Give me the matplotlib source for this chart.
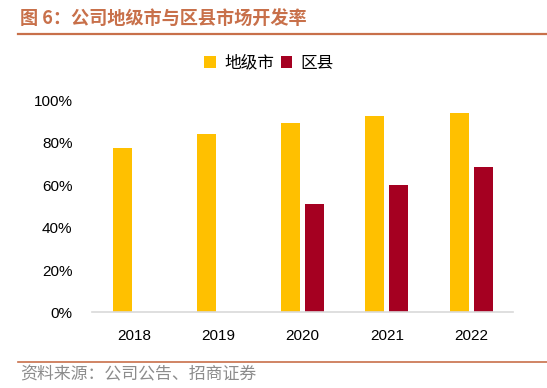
import numpy as np
import matplotlib.pyplot as plt
from matplotlib.lines import Line2D

plt.rcParams['font.family'] = ['Noto Sans CJK SC', 'DejaVu Sans']

years = ['2018', '2019', '2020', '2021', '2022']
city_rate = [0.777, 0.842, 0.895, 0.928, 0.942]      # 地级市
county_rate = [np.nan, np.nan, 0.512, 0.603, 0.685]  # 区县

title = '图 6：公司地级市与区县市场开发率'
source = '资料来源：公司公告、招商证券'
accent = '#C8704A'

fig = plt.figure(figsize=(5.47, 3.88), dpi=100)
ax = fig.add_axes([0.168, 0.1946, 0.7704, 0.5464])

x = np.arange(len(years))
w = 0.225
off = 0.142
ax.bar(x - off, city_rate, w, color='#FFC000', label='地级市')
ax.bar(x + off, county_rate, w, color='#A50021', label='区县')

ax.set_xlim(-0.5, len(years) - 0.5)
ax.set_ylim(0, 1.0)
ax.set_yticks(np.arange(0, 1.01, 0.2))
ax.set_yticklabels([f'{int(round(v * 100))}%' for v in np.arange(0, 1.01, 0.2)],
                   family='Liberation Sans', fontsize=11)
ax.set_xticks(x)
ax.set_xticklabels(years, family='Liberation Sans', fontsize=11)
ax.tick_params(axis='both', length=0)
ax.tick_params(axis='y', pad=14)
ax.tick_params(axis='x', pad=12)
for s in ['top', 'right', 'left']:
    ax.spines[s].set_visible(False)
ax.spines['bottom'].set_color('#D9D9D9')
ax.spines['bottom'].set_linewidth(1.2)

fig.legend(*ax.get_legend_handles_labels(), loc='center',
           bbox_to_anchor=(269 / 547, 1 - 63 / 388), ncol=2, frameon=False,
           fontsize=12, handlelength=0.7, handleheight=0.7, handletextpad=0.5,
           columnspacing=0.4)

fig.text(20 / 547, 1 - 19 / 388, title, fontsize=13.1, fontweight='bold',
         color=accent, va='center', ha='left')
fig.add_artist(Line2D([18 / 547, 1], [1 - 34 / 388] * 2, color=accent, lw=1.6))
fig.add_artist(Line2D([18 / 547, 1], [1 - 362 / 388] * 2, color=accent, lw=1.2))
fig.text(20 / 547, 1 - 374 / 388, source, fontsize=12.2, color='#8C8C8C',
         va='center', ha='left')

fig.savefig('out.png', dpi=100)
